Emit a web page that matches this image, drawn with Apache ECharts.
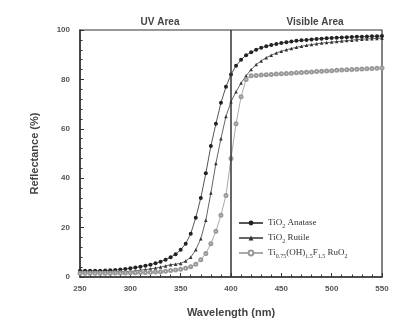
<!DOCTYPE html>
<html>
<head>
<meta charset="utf-8">
<script src="https://cdn.jsdelivr.net/npm/echarts@6/dist/echarts.min.js"></script>
<style>html,body{margin:0;padding:0;background:#fff}#c{width:396px;height:324px}</style>
</head>
<body>
<div id="c"></div>
<script>
// Wavelength grid (nm)
const wavelengths = [250,255,260,265,270,275,280,285,290,295,300,305,310,315,320,325,330,335,340,345,350,355,360,365,370,375,380,385,390,395,400,405,410,415,420,425,430,435,440,445,450,455,460,465,470,475,480,485,490,495,500,505,510,515,520,525,530,535,540,545,550];
// Reflectance (%)
const anatase = [2.5,2.5,2.5,2.5,2.5,2.6,2.7,2.8,3.0,3.2,3.5,3.8,4.2,4.6,5.0,5.6,6.2,7.0,8.0,9.2,11,13.5,17.5,24,32,42,53,62,70.5,77,82,85.5,88,89.8,91,92,92.8,93.4,93.9,94.3,94.7,95.0,95.3,95.6,95.8,96.0,96.2,96.4,96.5,96.7,96.8,96.9,97.0,97.1,97.2,97.3,97.3,97.4,97.5,97.5,97.6];
const rutile = [2.0,2.0,2.0,2.0,2.0,2.0,2.1,2.1,2.2,2.2,2.3,2.5,2.8,3.0,3.3,3.6,4.0,4.5,5.0,5.2,5.5,6.5,8,11,15.5,23,34,46,56,65,71,75,78.5,81.5,84,86,87.5,88.8,89.8,90.7,91.4,92,92.5,93,93.4,93.8,94.1,94.4,94.7,94.9,95.1,95.3,95.5,95.7,95.9,96.1,96.3,96.4,96.5,96.6,96.7];
const tiOHF = [1.5,1.5,1.5,1.5,1.5,1.5,1.5,1.6,1.6,1.6,1.7,1.7,1.8,1.8,1.9,2.0,2.1,2.3,2.6,2.8,3.1,3.5,4.2,5.2,7,9.5,13.5,18.5,25,33,48,62,73,80,81.5,81.6,81.8,81.9,82.0,82.2,82.3,82.4,82.5,82.7,82.8,82.9,83.0,83.2,83.3,83.4,83.5,83.7,83.8,83.9,84.0,84.1,84.2,84.3,84.4,84.5,84.6];
const seriesNames = ['TiO2 Anatase','TiO2 Rutile','Ti0.75(OH)1.5F1.5 RuO2'];
const xTicks = {min:250, max:550, interval:50};
const yTicks = {min:0, max:100, interval:20};
const divider = 400;

const pair = arr => wavelengths.map((w,i)=>[w,arr[i]]);
const legendRich = {
  'TiO2 Anatase': '{a|TiO}{s|2}{a| Anatase}',
  'TiO2 Rutile': '{a|TiO}{s|2}{a| Rutile}',
  'Ti0.75(OH)1.5F1.5 RuO2': '{a|Ti}{s|0.75}{a|(OH)}{s|1.5}{a|F}{s|1.5}{a| RuO}{s|2}'
};
const axisFont = {fontFamily:'Liberation Sans', fontSize:8, fontWeight:'bold', color:'#555'};
const chart = echarts.init(document.getElementById('c'), null, {renderer:'canvas'});
chart.setOption({
  animation:false,
  backgroundColor:'#fff',
  title:[
    {text:'UV Area', left:155, top:12, textAlign:'center', textStyle:{fontFamily:'Liberation Sans', fontSize:10, fontWeight:'bold', color:'#444'}},
    {text:'Visible Area', left:310, top:12, textAlign:'center', textStyle:{fontFamily:'Liberation Sans', fontSize:10, fontWeight:'bold', color:'#444'}}
  ],
  grid:{left:80, right:14, top:30, bottom:47, show:true, borderColor:'#333', borderWidth:1.2, backgroundColor:'transparent'},
  legend:{
    orient:'vertical', left:233, top:212, itemWidth:24, itemHeight:6, itemGap:3,
    data:seriesNames,
    formatter: n => legendRich[n],
    textStyle:{rich:{
      a:{fontFamily:'Liberation Serif', fontSize:9, color:'#333', lineHeight:12},
      s:{fontFamily:'Liberation Serif', fontSize:6, color:'#333', lineHeight:12, verticalAlign:'bottom', padding:[6,0,0,0]}
    }}
  },
  xAxis:{
    type:'value', min:xTicks.min, max:xTicks.max, interval:xTicks.interval,
    name:'Wavelength (nm)', nameLocation:'middle', nameGap:30,
    nameTextStyle:{fontFamily:'Liberation Sans', fontSize:11, fontWeight:'bold', color:'#444'},
    axisLine:{lineStyle:{color:'#333', width:1.5}},
    axisTick:{inside:true, length:4, lineStyle:{color:'#333'}},
    minorTick:{show:true, splitNumber:5, length:2.5, lineStyle:{color:'#333'}},
    splitLine:{show:false},
    axisLabel:Object.assign({margin:8}, axisFont)
  },
  yAxis:{
    type:'value', min:yTicks.min, max:yTicks.max, interval:yTicks.interval,
    name:'Reflectance (%)', nameLocation:'middle', nameGap:40,
    nameTextStyle:{fontFamily:'Liberation Sans', fontSize:11, fontWeight:'bold', color:'#444'},
    axisLine:{show:true, lineStyle:{color:'#333', width:1.5}},
    axisTick:{show:true, inside:true, length:4, lineStyle:{color:'#333'}},
    minorTick:{show:true, splitNumber:5, length:2.5, lineStyle:{color:'#333'}},
    splitLine:{show:false},
    axisLabel:Object.assign({margin:10}, axisFont)
  },
  series:[
    {name:seriesNames[0], type:'line', data:pair(anatase), symbol:'circle', symbolSize:4,
     itemStyle:{color:'#222'}, lineStyle:{color:'#555', width:1},
     markLine:{silent:true, symbol:'none', label:{show:false}, lineStyle:{color:'#333', width:1.5, type:'solid'}, data:[{xAxis:divider}]}},
    {name:seriesNames[1], type:'line', data:pair(rutile), symbol:'triangle', symbolSize:3.5,
     itemStyle:{color:'#333'}, lineStyle:{color:'#666', width:1}},
    {name:seriesNames[2], type:'line', data:pair(tiOHF), symbol:'emptyCircle', symbolSize:3,
     itemStyle:{color:'#999', borderColor:'#999', borderWidth:0.8}, lineStyle:{color:'#aaa', width:1}}
  ]
});
</script>
</body>
</html>
